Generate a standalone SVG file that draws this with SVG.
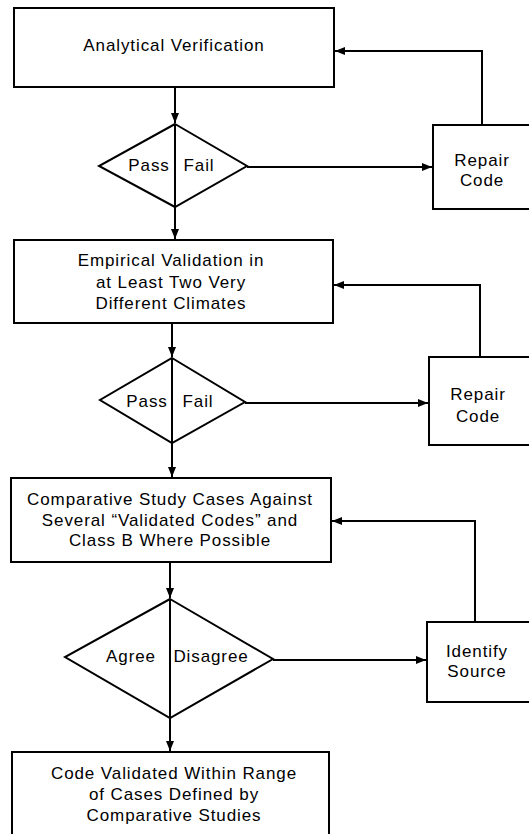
<svg xmlns="http://www.w3.org/2000/svg" width="529" height="834" viewBox="0 0 529 834">
<style>
.b{fill:#fff;stroke:#000;stroke-width:2}
.t{font-family:"Liberation Sans",Arial,sans-serif;font-size:17px;fill:#000;text-anchor:middle;letter-spacing:0.9px}
.c{fill:none;stroke:#000;stroke-width:2}
</style>
<defs>
<marker id="a" viewBox="0 0 10 10" refX="10" refY="5" markerWidth="5" markerHeight="5" orient="auto" markerUnits="strokeWidth">
<path d="M0,1 L10,5 L0,9 Z" fill="#000"/>
</marker>
</defs>
<rect width="529" height="834" fill="#fff"/>
<g id="connectors">
<path class="c" d="M175,87 V123" marker-end="url(#a)"/>
<path class="c" d="M175,124 V207"/>
<path class="c" d="M175,207 V239" marker-end="url(#a)"/>
<path class="c" d="M247,167 H432" marker-end="url(#a)"/>
<path class="c" d="M482,125 V51 H335" marker-end="url(#a)"/>
<path class="c" d="M172,323 V357" marker-end="url(#a)"/>
<path class="c" d="M172,358 V443"/>
<path class="c" d="M172,443 V477" marker-end="url(#a)"/>
<path class="c" d="M245,403 H428" marker-end="url(#a)"/>
<path class="c" d="M480,357 V285 H334" marker-end="url(#a)"/>
<path class="c" d="M170,562 V598" marker-end="url(#a)"/>
<path class="c" d="M170,599 V718"/>
<path class="c" d="M170,718 V751" marker-end="url(#a)"/>
<path class="c" d="M273,660 H426" marker-end="url(#a)"/>
<path class="c" d="M475,622 V521 H332" marker-end="url(#a)"/>
</g>
<g id="n1">
<rect class="b" x="14" y="8" width="320" height="79"/>
<text class="t" x="174" y="51">Analytical Verification</text>
</g>
<g id="d1">
<polygon class="b" points="175,124 247,166 175,207 99,166"/>
<line class="c" x1="175" y1="124" x2="175" y2="207"/>
<text class="t" x="149" y="171">Pass</text>
<text class="t" x="199" y="171">Fail</text>
</g>
<g id="r1">
<rect class="b" x="433" y="125" width="100" height="84"/>
<text class="t" x="482" y="166">Repair</text>
<text class="t" x="482" y="186">Code</text>
</g>
<g id="n2">
<rect class="b" x="14" y="240" width="319" height="83"/>
<text class="t" x="171" y="266">Empirical Validation in</text>
<text class="t" x="171" y="288">at Least Two Very</text>
<text class="t" x="171" y="309">Different Climates</text>
</g>
<g id="d2">
<polygon class="b" points="172,358 245,402 172,443 100,400"/>
<line class="c" x1="172" y1="358" x2="172" y2="443"/>
<text class="t" x="147" y="407">Pass</text>
<text class="t" x="198" y="407">Fail</text>
</g>
<g id="r2">
<rect class="b" x="429" y="357" width="104" height="88"/>
<text class="t" x="478" y="400">Repair</text>
<text class="t" x="478" y="422">Code</text>
</g>
<g id="n3">
<rect class="b" x="11" y="478" width="320" height="84"/>
<text class="t" x="170" y="505">Comparative Study Cases Against</text>
<text class="t" x="170" y="526">Several “Validated Codes” and</text>
<text class="t" x="170" y="546">Class B Where Possible</text>
</g>
<g id="d3">
<polygon class="b" points="170,599 273,659 170,718 65,657"/>
<line class="c" x1="170" y1="599" x2="170" y2="718"/>
<text class="t" x="131" y="662">Agree</text>
<text class="t" x="211" y="662">Disagree</text>
</g>
<g id="s3">
<rect class="b" x="427" y="622" width="106" height="80"/>
<text class="t" x="477" y="657">Identify</text>
<text class="t" x="477" y="677">Source</text>
</g>
<g id="n4">
<rect class="b" x="12" y="752" width="317" height="84"/>
<text class="t" x="174" y="779">Code Validated Within Range</text>
<text class="t" x="174" y="800">of Cases Defined by</text>
<text class="t" x="174" y="821">Comparative Studies</text>
</g>
</svg>
